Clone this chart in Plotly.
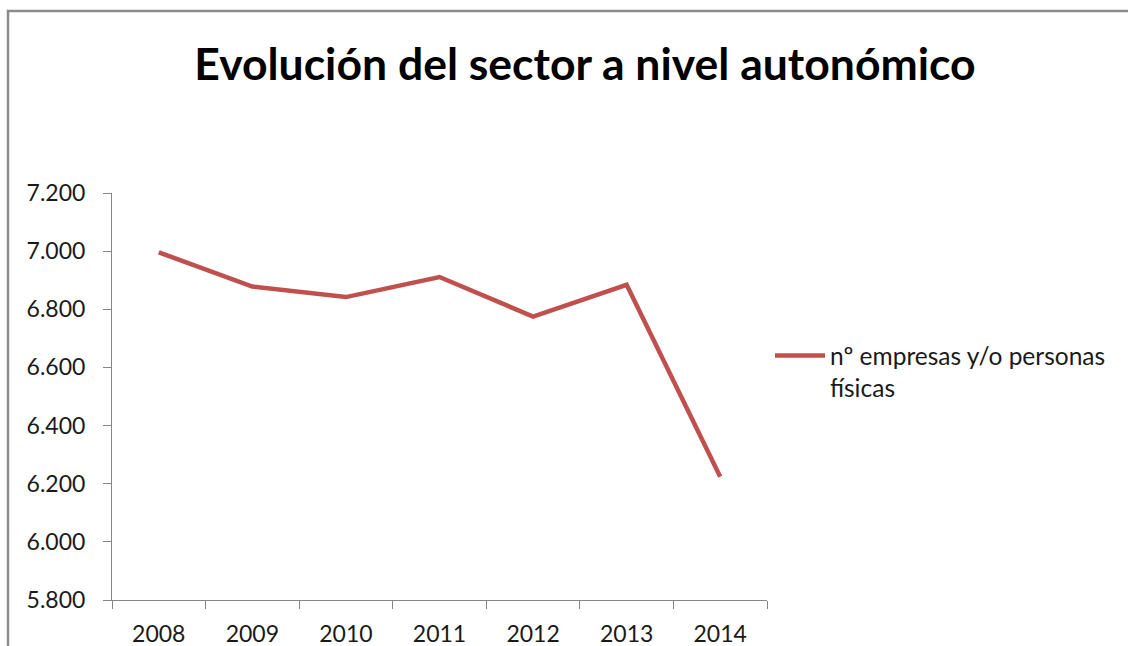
import plotly.graph_objects as go

years = ["2008", "2009", "2010", "2011", "2012", "2013", "2014"]
values = [6996, 6878, 6842, 6911, 6775, 6884, 6224]
series_name = "nº empresas y/o personas<br>físicas"
title_text = "Evolución del sector a nivel autonómico"
y_ticks = [5800, 6000, 6200, 6400, 6600, 6800, 7000, 7200]
y_tick_labels = ["5.800", "6.000", "6.200", "6.400", "6.600", "6.800", "7.000", "7.200"]

W, H = 1128, 646
L, R, T, B = 112, 361, 193, 46
pw, ph = W - L - R, H - T - B

def px_x(p):
    return (p - L) / pw

def px_y(p):
    return (H - B - p) / ph

font_family = "Lato, 'Open Sans', sans-serif"
red = "#C0504D"
gray = "#868686"
txt = "#1a1a1a"

fig = go.Figure()
fig.add_trace(go.Scatter(
    x=years, y=values, mode="lines", name=series_name,
    line=dict(color=red, width=4.5), showlegend=True,
))

frame_path = "M {x0},{y0} L {x0},{y1} L {x1},{y1}".format(
    x0=px_x(8), y0=px_y(646), y1=px_y(11), x1=px_x(1128))

fig.update_layout(
    width=W, height=H,
    margin=dict(l=L, r=R, t=T, b=B, autoexpand=False),
    paper_bgcolor="white", plot_bgcolor="white",
    title=dict(text="<b>" + title_text + "</b>", x=585 / W, xanchor="center",
               y=1 - 64 / H, yanchor="middle", xref="container", yref="container",
               font=dict(family=font_family, size=44.5, color="black")),
    font=dict(family=font_family, size=23, color=txt),
    showlegend=True,
    legend=dict(x=px_x(770), y=px_y(333), xanchor="left", yanchor="top",
                valign="top", itemwidth=50, font=dict(size=24.5, color=txt),
                bgcolor="rgba(0,0,0,0)", tracegroupgap=0),
    xaxis=dict(type="category", range=[-0.5, 6.5], tickson="boundaries",
               ticks="outside", ticklen=8, tickcolor=gray, showline=True,
               linecolor=gray, linewidth=1, showgrid=False, zeroline=False,
               automargin=False,
               tickfont=dict(size=23, color=txt), ticklabelstandoff=13),
    yaxis=dict(range=[5800, 7200], tickvals=y_ticks, ticktext=y_tick_labels,
               ticks="outside", ticklen=8, tickcolor=gray, showline=True,
               linecolor=gray, linewidth=1, showgrid=False, zeroline=False,
               automargin=False,
               tickfont=dict(size=23, color=txt), ticklabelstandoff=13),
    shapes=[dict(type="path", xref="paper", yref="paper", path=frame_path,
                 line=dict(color="#8a8a8a", width=2.5), layer="below")],
)

fig.write_html("out.html", config={"displayModeBar": False})
